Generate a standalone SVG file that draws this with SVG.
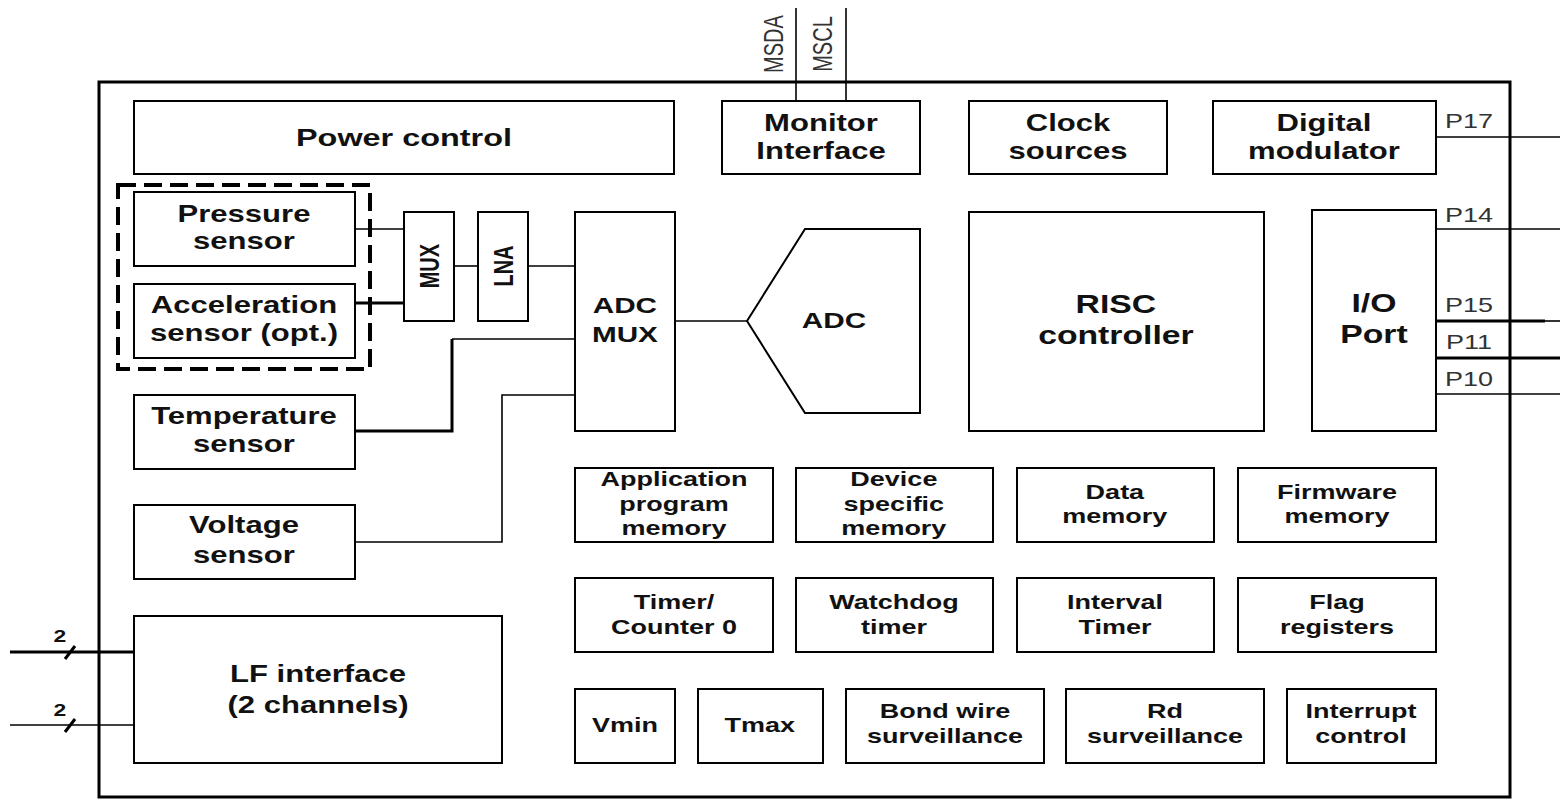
<svg xmlns="http://www.w3.org/2000/svg" width="1560" height="799" viewBox="0 0 1560 799">
  <style>
    .box { fill: #fff; stroke: #000; stroke-width: 2; }
    .chip { fill: none; stroke: #000; stroke-width: 3; }
    .opt { fill: none; stroke: #000; stroke-width: 4; stroke-dasharray: 18 8; }
    .w { fill: none; stroke: #000; stroke-width: 1.6; }
    .wb { fill: none; stroke: #000; stroke-width: 3; }
    .t { font-family: "Liberation Sans", Arial, sans-serif; font-weight: bold; text-anchor: middle; fill: #111;
         transform-box: fill-box; transform-origin: center; transform: scaleX(1.35); }
    .s20 { font-size: 20px; }
    .s22 { font-size: 22px; }
    .s23 { font-size: 23px; }
    .s24 { font-size: 24px; }
    .s25 { font-size: 25px; }
    .pin { font-weight: normal; fill: #333; font-size: 20px; }
    .rot { dominant-baseline: central; transform: scaleX(1.35) rotate(-90deg); }
  </style>
  <rect width="1560" height="799" fill="#fff"/>

  <!-- chip outline -->
  <rect id="chip" class="chip" x="99" y="82" width="1411" height="715"/>

  <!-- wiring -->
  <g id="connectors">
    <!-- monitor bus -->
    <line class="w" x1="796" y1="8" x2="796" y2="101"/>
    <line class="w" x1="846" y1="8" x2="846" y2="101"/>
    <!-- port pins -->
    <line class="w" x1="1436" y1="137" x2="1560" y2="137" stroke-width="2.5"/>
    <line class="w" x1="1436" y1="229" x2="1560" y2="229"/>
    <line class="wb" x1="1436" y1="321" x2="1545" y2="321"/>
    <line class="w" x1="1545" y1="321" x2="1560" y2="321"/>
    <line class="wb" x1="1436" y1="358" x2="1560" y2="358"/>
    <line class="w" x1="1436" y1="394" x2="1560" y2="394"/>
    <!-- sensor chain -->
    <line class="w" x1="355" y1="229" x2="404" y2="229"/>
    <line class="wb" x1="355" y1="303" x2="404" y2="303"/>
    <line class="w" x1="454" y1="266" x2="478" y2="266"/>
    <line class="w" x1="528" y1="266" x2="575" y2="266"/>
    <polyline class="wb" points="355,431 452,431 452,339"/>
    <line class="w" x1="452" y1="339" x2="575" y2="339"/>
    <polyline class="w" points="355,542 502,542 502,395 575,395"/>
    <line class="w" x1="675" y1="321" x2="747" y2="321"/>
    <!-- LF inputs -->
    <line class="wb" x1="10" y1="652" x2="134" y2="652"/>
    <line class="w" x1="10" y1="725" x2="134" y2="725"/>
    <line class="wb" x1="65" y1="659" x2="75" y2="646" stroke-width="2.5"/>
    <line class="wb" x1="65" y1="732" x2="75" y2="719" stroke-width="2.5"/>
    <text class="t" x="60" y="642" style="font-size:17px">2</text>
    <text class="t" x="60" y="716" style="font-size:17px">2</text>
    <!-- pin names -->
    <text class="t pin rot" x="773" y="44">MSDA</text>
    <text class="t pin rot" x="822" y="44">MSCL</text>
    <text class="t pin" x="1469" y="128">P17</text>
    <text class="t pin" x="1469" y="222">P14</text>
    <text class="t pin" x="1469" y="312">P15</text>
    <text class="t pin" x="1469" y="349">P11</text>
    <text class="t pin" x="1469" y="386">P10</text>
  </g>

  <!-- top row -->
  <g id="power-control">
    <rect class="box" x="134" y="101" width="540" height="73"/>
    <text class="t s24" x="404" y="146">Power control</text>
  </g>
  <g id="monitor-interface">
    <rect class="box" x="722" y="101" width="198" height="73"/>
    <text class="t s23"><tspan x="821" y="131">Monitor</tspan><tspan x="821" y="159">Interface</tspan></text>
  </g>
  <g id="clock-sources">
    <rect class="box" x="969" y="101" width="198" height="73"/>
    <text class="t s23"><tspan x="1068" y="131">Clock</tspan><tspan x="1068" y="159">sources</tspan></text>
  </g>
  <g id="digital-modulator">
    <rect class="box" x="1213" y="101" width="223" height="73"/>
    <text class="t s23"><tspan x="1324" y="131">Digital</tspan><tspan x="1324" y="159">modulator</tspan></text>
  </g>

  <!-- sensors -->
  <rect id="sensor-group" class="opt" x="118" y="185" width="252" height="184"/>
  <g id="pressure-sensor">
    <rect class="box" x="134" y="192" width="221" height="74"/>
    <text class="t s23"><tspan x="244" y="222">Pressure</tspan><tspan x="244" y="249">sensor</tspan></text>
  </g>
  <g id="acceleration-sensor">
    <rect class="box" x="134" y="284" width="221" height="74"/>
    <text class="t s23"><tspan x="244" y="313">Acceleration</tspan><tspan x="244" y="341">sensor (opt.)</tspan></text>
  </g>
  <g id="temperature-sensor">
    <rect class="box" x="134" y="395" width="221" height="74"/>
    <text class="t s23"><tspan x="244" y="424">Temperature</tspan><tspan x="244" y="452">sensor</tspan></text>
  </g>
  <g id="voltage-sensor">
    <rect class="box" x="134" y="505" width="221" height="74"/>
    <text class="t s23"><tspan x="244" y="533">Voltage</tspan><tspan x="244" y="563">sensor</tspan></text>
  </g>
  <g id="lf-interface">
    <rect class="box" x="134" y="616" width="368" height="147"/>
    <text class="t s23"><tspan x="318" y="682">LF interface</tspan><tspan x="318" y="713">(2 channels)</tspan></text>
  </g>

  <!-- analog front end -->
  <g id="mux">
    <rect class="box" x="404" y="212" width="50" height="109"/>
    <text class="t s20 rot" x="429" y="266">MUX</text>
  </g>
  <g id="lna">
    <rect class="box" x="478" y="212" width="50" height="109"/>
    <text class="t s20 rot" x="503" y="266">LNA</text>
  </g>
  <g id="adc-mux">
    <rect class="box" x="575" y="212" width="100" height="219"/>
    <text class="t s22"><tspan x="625" y="313">ADC</tspan><tspan x="625" y="342">MUX</tspan></text>
  </g>
  <g id="adc">
    <polygon class="box" points="747,321 805,229 920,229 920,413 805,413"/>
    <text class="t s22" x="834" y="328">ADC</text>
  </g>
  <g id="risc-controller">
    <rect class="box" x="969" y="212" width="295" height="219"/>
    <text class="t s25"><tspan x="1116" y="313">RISC</tspan><tspan x="1116" y="344">controller</tspan></text>
  </g>
  <g id="io-port">
    <rect class="box" x="1312" y="210" width="124" height="221"/>
    <text class="t s25"><tspan x="1374" y="312">I/O</tspan><tspan x="1374" y="343">Port</tspan></text>
  </g>

  <!-- memories -->
  <g id="application-program-memory">
    <rect class="box" x="575" y="468" width="198" height="74"/>
    <text class="t s20"><tspan x="674" y="486">Application</tspan><tspan x="674" y="511">program</tspan><tspan x="674" y="535">memory</tspan></text>
  </g>
  <g id="device-specific-memory">
    <rect class="box" x="796" y="468" width="197" height="74"/>
    <text class="t s20"><tspan x="894" y="486">Device</tspan><tspan x="894" y="511">specific</tspan><tspan x="894" y="535">memory</tspan></text>
  </g>
  <g id="data-memory">
    <rect class="box" x="1017" y="468" width="197" height="74"/>
    <text class="t s20"><tspan x="1115" y="499">Data</tspan><tspan x="1115" y="523">memory</tspan></text>
  </g>
  <g id="firmware-memory">
    <rect class="box" x="1238" y="468" width="198" height="74"/>
    <text class="t s20"><tspan x="1337" y="499">Firmware</tspan><tspan x="1337" y="523">memory</tspan></text>
  </g>

  <!-- timers and registers -->
  <g id="timer-counter-0">
    <rect class="box" x="575" y="578" width="198" height="74"/>
    <text class="t s20"><tspan x="674" y="609">Timer/</tspan><tspan x="674" y="634">Counter 0</tspan></text>
  </g>
  <g id="watchdog-timer">
    <rect class="box" x="796" y="578" width="197" height="74"/>
    <text class="t s20"><tspan x="894" y="609">Watchdog</tspan><tspan x="894" y="634">timer</tspan></text>
  </g>
  <g id="interval-timer">
    <rect class="box" x="1017" y="578" width="197" height="74"/>
    <text class="t s20"><tspan x="1115" y="609">Interval</tspan><tspan x="1115" y="634">Timer</tspan></text>
  </g>
  <g id="flag-registers">
    <rect class="box" x="1238" y="578" width="198" height="74"/>
    <text class="t s20"><tspan x="1337" y="609">Flag</tspan><tspan x="1337" y="634">registers</tspan></text>
  </g>

  <!-- supervision -->
  <g id="vmin">
    <rect class="box" x="575" y="689" width="100" height="74"/>
    <text class="t s20" x="625" y="732">Vmin</text>
  </g>
  <g id="tmax">
    <rect class="box" x="698" y="689" width="125" height="74"/>
    <text class="t s20" x="760" y="732">Tmax</text>
  </g>
  <g id="bond-wire-surveillance">
    <rect class="box" x="846" y="689" width="198" height="74"/>
    <text class="t s20"><tspan x="945" y="718">Bond wire</tspan><tspan x="945" y="743">surveillance</tspan></text>
  </g>
  <g id="rd-surveillance">
    <rect class="box" x="1066" y="689" width="198" height="74"/>
    <text class="t s20"><tspan x="1165" y="718">Rd</tspan><tspan x="1165" y="743">surveillance</tspan></text>
  </g>
  <g id="interrupt-control">
    <rect class="box" x="1287" y="689" width="149" height="74"/>
    <text class="t s20"><tspan x="1361" y="718">Interrupt</tspan><tspan x="1361" y="743">control</tspan></text>
  </g>
</svg>
